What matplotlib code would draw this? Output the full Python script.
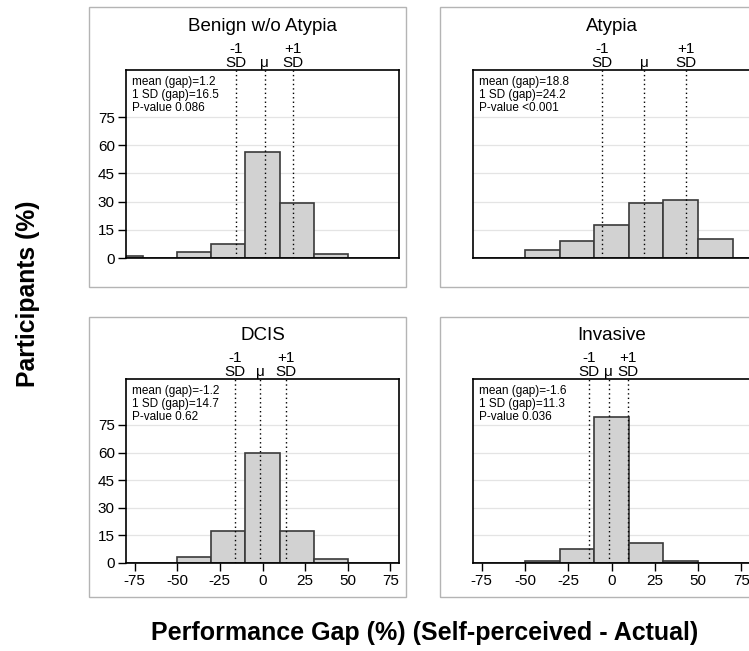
import matplotlib
matplotlib.use("Agg")
import matplotlib.pyplot as plt
from matplotlib.patches import Rectangle

plt.rcParams["font.family"] = ["Liberation Sans", "DejaVu Sans"]
plt.rcParams["axes.unicode_minus"] = False

W, H, DPI = 749, 651, 100

# Histogram bins (centres, width 20) and percent of participants per bin
bin_centers = [-80, -60, -40, -20, 0, 20, 40, 60, 80]
bin_width = 20

titles = ["Benign w/o Atypia", "Atypia", "DCIS", "Invasive"]
benign = [1.2, 0, 3.4, 7.7, 56.6, 29.5, 2.1, 0, 0]
atypia = [0, 0, 4.4, 8.9, 17.4, 29.4, 30.6, 10.0, 0]
dcis = [0, 0, 3.3, 17.4, 59.6, 17.4, 2.4, 0, 0]
invasive = [0, 0, 1.3, 7.6, 79.2, 11.1, 1.3, 0, 0]

means = [1.2, 18.8, -1.2, -1.6]
sds = [16.5, 24.2, 14.7, 11.3]
pvalues = ["0.086", "<0.001", "0.62", "0.036"]

y_ticks = [0, 15, 30, 45, 60, 75]
x_ticks = [-75, -50, -25, 0, 25, 50, 75]

fig = plt.figure(figsize=(W / DPI, H / DPI), dpi=DPI)


def px_rect(left, top, right, bottom):
    return [left / W, 1 - bottom / H, (right - left) / W, (bottom - top) / H]


# Light frames around each panel
for (l, t, r, b) in [(89, 7, 406, 287), (440, 7, 790, 287),
                     (89, 317, 406, 597), (440, 317, 790, 597)]:
    fig.patches.append(Rectangle((l / W, 1 - b / H), (r - l) / W, (b - t) / H,
                                 transform=fig.transFigure, fill=False,
                                 edgecolor="#b4b4b4", linewidth=1.0))

axes_px = [(126, 70, 399, 258), (473, 70, 750, 258),
           (126, 379, 399, 563), (473, 379, 750, 563)]
series = [benign, atypia, dcis, invasive]

for i, (rect, vals) in enumerate(zip(axes_px, series)):
    ax = fig.add_axes(px_rect(*rect))
    ax.set_xlim(-80, 80)
    ax.set_ylim(0, 100)
    ax.set_yticks(y_ticks)
    ax.yaxis.grid(True, color="#e4e4e4", linewidth=0.9)
    ax.set_axisbelow(True)
    for s in ax.spines.values():
        s.set_linewidth(1.2)
        s.set_color("black")

    ax.bar(bin_centers, vals, width=bin_width, color="#d2d2d2",
           edgecolor="#3a3a3a", linewidth=1.2, zorder=2)

    m, sd = means[i], sds[i]
    for xv in (m - sd, m, m + sd):
        ax.axvline(xv, color="black", linestyle=(0, (1, 2.2)), linewidth=1.0, zorder=3)

    # labels above the reference lines
    kw = dict(xycoords=("data", "axes fraction"), textcoords="offset points",
              ha="center", va="baseline", fontsize=11, annotation_clip=False)
    ax.annotate("SD", xy=(m - sd, 1), xytext=(0, 2.2), **kw)
    ax.annotate("-1", xy=(m - sd, 1), xytext=(0, 12.5), **kw)
    ax.annotate("\u03bc", xy=(m, 1), xytext=(0, 2.2), **kw)
    ax.annotate("SD", xy=(m + sd, 1), xytext=(0, 2.2), **kw)
    ax.annotate("+1", xy=(m + sd, 1), xytext=(0, 12.5), **kw)
    ax.annotate(titles[i], xy=(0.5, 1), xycoords="axes fraction",
                textcoords="offset points", xytext=(0, 28), ha="center",
                va="baseline", fontsize=13.5, annotation_clip=False)

    stats = (f"mean (gap)={m}\n1 SD (gap)={sd}\nP-value {pvalues[i]}")
    ax.text(0.021, 0.968, stats, transform=ax.transAxes, ha="left", va="top",
            fontsize=8.5, linespacing=1.12, zorder=4)

    left_col = i % 2 == 0
    bottom_row = i >= 2
    ax.tick_params(axis="y", length=6, width=1.0, labelsize=11, pad=2,
                   left=left_col, labelleft=left_col)
    if bottom_row:
        ax.set_xticks(x_ticks)
        ax.tick_params(axis="x", length=6, width=1.0, labelsize=11, pad=2)
    else:
        ax.set_xticks([])

fig.text(28 / W, 1 - 294 / H, "Participants (%)", rotation=90, ha="center",
         va="center", fontsize=17.8, fontweight="bold")
fig.text(425 / W, 1 - 633 / H, "Performance Gap (%) (Self-perceived - Actual)",
         ha="center", va="center", fontsize=18, fontweight="bold")

fig.savefig("out.png", dpi=DPI)
